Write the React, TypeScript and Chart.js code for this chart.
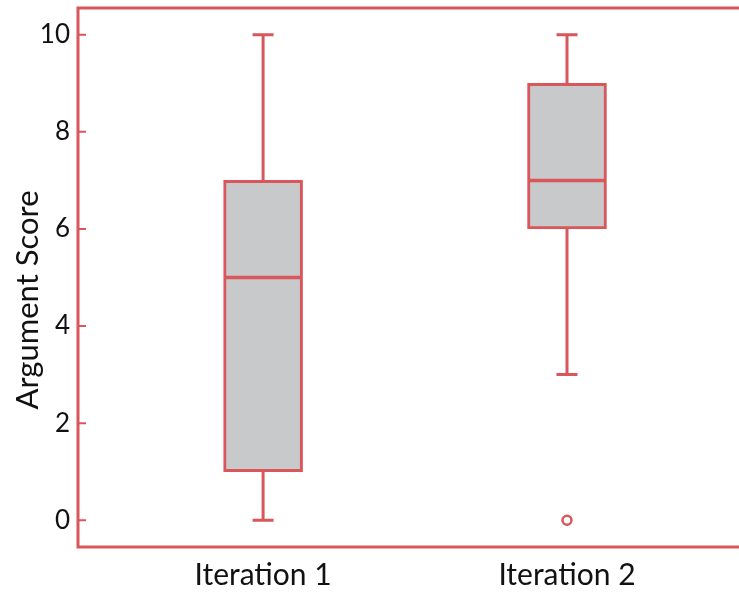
import React, { useEffect, useRef } from 'react';
import { Chart, registerables } from 'chart.js';

Chart.register(...registerables);

const CATEGORIES = ['Iteration 1', 'Iteration 2'];
const MINS = [0, 3];
const Q1S = [1, 6];
const MEDIANS = [5, 7];
const Q3S = [7, 9];
const MAXS = [10, 10];
const OUTLIERS: number[][] = [[], [0]];
const Y_TICKS = [0, 2, 4, 6, 8, 10];
const Y_TITLE = 'Argument Score';

const RED = '#d9565a';
const GREY = '#c8c9cb';
const FONT = 'Lato, "DejaVu Sans", sans-serif';

const boxPlugin = {
  id: 'boxExtras',
  afterDatasetsDraw(chart: any) {
    const { ctx, scales } = chart;
    const xs = scales.x;
    const ys = scales.y;
    ctx.save();
    ctx.strokeStyle = RED;
    ctx.lineCap = 'butt';
    CATEGORIES.forEach((_, i) => {
      const cx = xs.getPixelForValue(i);
      const yMin = ys.getPixelForValue(MINS[i]);
      const yQ1 = ys.getPixelForValue(Q1S[i]);
      const yMed = ys.getPixelForValue(MEDIANS[i]);
      const yQ3 = ys.getPixelForValue(Q3S[i]);
      const yMax = ys.getPixelForValue(MAXS[i]);
      ctx.lineWidth = 3;
      ctx.beginPath();
      ctx.moveTo(cx, yQ3);
      ctx.lineTo(cx, yMax);
      ctx.moveTo(cx, yQ1);
      ctx.lineTo(cx, yMin);
      ctx.moveTo(cx - 10.5, yMax);
      ctx.lineTo(cx + 10.5, yMax);
      ctx.moveTo(cx - 10.5, yMin);
      ctx.lineTo(cx + 10.5, yMin);
      ctx.stroke();
      ctx.lineWidth = 3.5;
      ctx.beginPath();
      ctx.moveTo(cx - 38, yMed);
      ctx.lineTo(cx + 38, yMed);
      ctx.stroke();
    });
    ctx.restore();
  },
  afterDraw(chart: any) {
    const { ctx, chartArea, scales } = chart;
    const ys = scales.y;
    ctx.save();
    ctx.strokeStyle = RED;
    ctx.lineWidth = 3;
    ctx.beginPath();
    ctx.moveTo(chartArea.right + 5, chartArea.top);
    ctx.lineTo(chartArea.left, chartArea.top);
    ctx.lineTo(chartArea.left, chartArea.bottom);
    ctx.lineTo(chartArea.right + 5, chartArea.bottom);
    ctx.stroke();
    ctx.lineWidth = 2;
    ctx.beginPath();
    Y_TICKS.forEach((v) => {
      const y = ys.getPixelForValue(v);
      ctx.moveTo(chartArea.left, y);
      ctx.lineTo(chartArea.left + 8, y);
    });
    ctx.stroke();
    // y-axis title
    ctx.translate(28, 300);
    ctx.rotate(-Math.PI / 2);
    ctx.fillStyle = '#111111';
    ctx.font = `31px ${FONT}`;
    ctx.textAlign = 'center';
    ctx.textBaseline = 'middle';
    ctx.fillText(Y_TITLE, 0, 0);
    ctx.restore();
  },
};

export default function App() {
  const ref = useRef<HTMLCanvasElement>(null);
  useEffect(() => {
    document.body.style.margin = '0';
    const chart = new Chart(ref.current as HTMLCanvasElement, {
      type: 'bar',
      data: {
        datasets: [
          {
            type: 'bar',
            data: CATEGORIES.map((_, i) => ({ x: i, y: [Q1S[i], Q3S[i]] })) as any,
            backgroundColor: GREY,
            borderColor: RED,
            borderWidth: 3,
            borderSkipped: false,
            barThickness: 79,
          } as any,
          {
            type: 'scatter',
            data: OUTLIERS.flatMap((vals, i) => vals.map((v) => ({ x: i, y: v }))),
            pointRadius: 4.5,
            pointBorderWidth: 2.5,
            pointBorderColor: RED,
            pointBackgroundColor: '#ffffff',
            showLine: false,
          } as any,
        ],
      },
      options: {
        animation: false,
        responsive: false,
        devicePixelRatio: 1,
        layout: { padding: { top: 8, left: 0, right: 0, bottom: 0 } },
        plugins: { legend: { display: false }, tooltip: { enabled: false } },
        scales: {
          x: {
            type: 'linear',
            offset: false,
            min: -0.609,
            max: 1.612,
            grid: { display: false, drawTicks: false, offset: false },
            border: { display: false },
            afterBuildTicks: (scale: any) => {
              scale.ticks = CATEGORIES.map((_, i) => ({ value: i }));
            },
            afterFit: (scale: any) => {
              scale.height = 45;
              scale.paddingLeft = 0;
              scale.paddingRight = 0;
            },
            ticks: {
              callback: (v: any) => CATEGORIES[v as number] ?? '',
              font: { family: FONT, size: 30 },
              color: '#111111',
              padding: 10,
              maxRotation: 0,
              autoSkip: false,
            },
          },
          y: {
            type: 'linear',
            min: -0.55,
            max: 10.55,
            grid: { display: false, drawTicks: false },
            border: { display: false },
            afterBuildTicks: (scale: any) => {
              scale.ticks = Y_TICKS.map((v) => ({ value: v }));
            },
            afterFit: (scale: any) => {
              scale.width = 78;
              scale.paddingTop = 0;
              scale.paddingBottom = 0;
            },
            ticks: {
              font: { family: FONT, size: 26 },
              color: '#111111',
              padding: 8,
            },
            title: { display: false },
          },
        },
      },
      plugins: [boxPlugin],
    });
    return () => chart.destroy();
  }, []);
  return (
    <div style={{ position: 'fixed', top: 0, left: 0, width: 739, height: 592, overflow: 'hidden', background: '#fff' }}>
      <canvas ref={ref} width={760} height={592} style={{ width: 760, height: 592, display: 'block' }} />
    </div>
  );
}
